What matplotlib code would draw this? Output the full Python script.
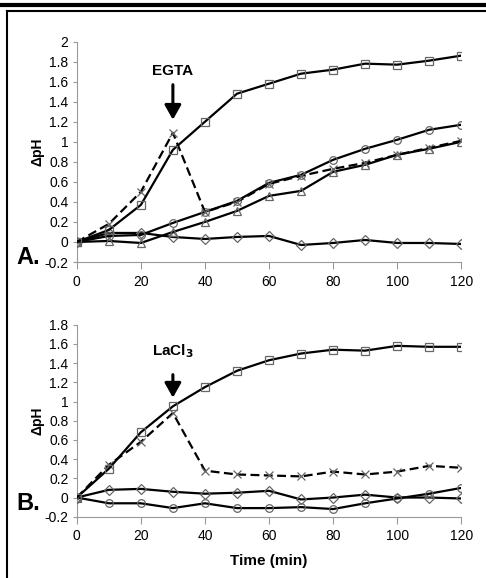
import matplotlib
matplotlib.use("Agg")
import matplotlib.pyplot as plt
from matplotlib.lines import Line2D

plt.rcParams["font.family"] = ["Liberation Sans", "DejaVu Sans"]

# Time points (min)
time = [0, 10, 20, 30, 40, 50, 60, 70, 80, 90, 100, 110, 120]

# Panel A (EGTA)
a_square = [0, 0.12, 0.37, 0.92, 1.20, 1.48, 1.58, 1.68, 1.72, 1.78, 1.77, 1.81, 1.86]
a_cross = [0, 0.18, 0.50, 1.09, 0.30, 0.40, 0.58, 0.66, 0.73, 0.79, 0.87, 0.94, 1.01]
a_circle = [0, 0.06, 0.07, 0.19, 0.30, 0.41, 0.59, 0.67, 0.82, 0.93, 1.02, 1.12, 1.17]
a_triangle = [0, 0.01, -0.01, 0.10, 0.20, 0.31, 0.46, 0.51, 0.70, 0.77, 0.87, 0.93, 1.00]
a_diamond = [0, 0.09, 0.09, 0.05, 0.03, 0.05, 0.06, -0.03, -0.01, 0.02, -0.01, -0.01, -0.02]

# Panel B (LaCl3)
b_square = [0, 0.30, 0.68, 0.95, 1.15, 1.32, 1.43, 1.50, 1.54, 1.53, 1.58, 1.57, 1.57]
b_cross = [0, 0.34, 0.58, 0.88, 0.28, 0.24, 0.23, 0.22, 0.27, 0.24, 0.27, 0.33, 0.31]
b_diamond = [0, 0.08, 0.09, 0.06, 0.04, 0.05, 0.07, -0.02, 0.0, 0.03, 0.0, 0.0, -0.01]
b_circle = [0, -0.06, -0.06, -0.11, -0.06, -0.11, -0.11, -0.10, -0.12, -0.06, -0.01, 0.04, 0.10]

xticks = [0, 20, 40, 60, 80, 100, 120]
a_yticks = [-0.2, 0, 0.2, 0.4, 0.6, 0.8, 1, 1.2, 1.4, 1.6, 1.8, 2]
b_yticks = [-0.2, 0, 0.2, 0.4, 0.6, 0.8, 1, 1.2, 1.4, 1.6, 1.8]

fig = plt.figure(figsize=(4.86, 5.78), dpi=100)

# frame lines around the figure
fig.add_artist(Line2D([0, 1], [1 - 5 / 578, 1 - 5 / 578], color="black", lw=3))
fig.add_artist(Line2D([7 / 486, 1], [1 - 10.5 / 578, 1 - 10.5 / 578], color="black", lw=1.5))
fig.add_artist(Line2D([7 / 486, 7 / 486], [0, 1 - 10.5 / 578], color="black", lw=1.5))

msize = {"s": 5.5, "D": 5.5, "o": 5.5, "^": 6, "x": 5.5}


def series(ax, y, marker, dashed=False):
    ax.plot(time, y, color="black", lw=1.6, ls=(0, (4, 2)) if dashed else "-",
            marker=marker, ms=msize[marker], mfc="none", mec="#666666", mew=0.9,
            zorder=3)


def style(ax, yticks, ylim):
    ax.set_xlim(0, 120)
    ax.set_ylim(*ylim)
    ax.set_xticks(xticks)
    ax.set_yticks(yticks)
    ax.set_yticklabels([("%g" % v) for v in yticks])
    for s in ["top", "right"]:
        ax.spines[s].set_visible(False)
    for s in ["left", "bottom"]:
        ax.spines[s].set_color("#999999")
    ax.tick_params(axis="x", length=5, color="#999999", labelsize=10, pad=4)
    ax.tick_params(axis="y", length=3, color="#999999", labelsize=10, pad=3)
    ax.set_ylabel("ΔpH", fontsize=10, fontweight="bold", labelpad=0)


def arrow(ax, x, y0, y1):
    ax.annotate("", xy=(x, y1), xytext=(x, y0),
                arrowprops=dict(arrowstyle="-|>,head_length=0.8,head_width=0.45",
                                color="black", lw=2.2, mutation_scale=11,
                                shrinkA=0, shrinkB=0))


axA = fig.add_axes([0.158, 0.5467, 0.791, 0.3813])
series(axA, a_diamond, "D")
series(axA, a_triangle, "^")
series(axA, a_circle, "o")
series(axA, a_cross, "x", dashed=True)
series(axA, a_square, "s")
style(axA, a_yticks, (-0.2, 2))
arrow(axA, 30, 1.57, 1.22)
axA.text(30, 1.71, "EGTA", ha="center", va="center", fontsize=11, fontweight="bold")
fig.text(16 / 486, 1 - 258 / 578, "A.", fontsize=17, fontweight="bold", va="center")

axB = fig.add_axes([0.158, 0.106, 0.791, 0.3322])
series(axB, b_diamond, "D")
series(axB, b_circle, "o")
series(axB, b_cross, "x", dashed=True)
series(axB, b_square, "s")
style(axB, b_yticks, (-0.2, 1.8))
arrow(axB, 30, 1.28, 1.04)
axB.text(30, 1.52, "LaCl$_\\mathbf{3}$", ha="center", va="center", fontsize=11, fontweight="bold")
axB.set_xlabel("Time (min)", fontsize=11, fontweight="bold", labelpad=8)
fig.text(16 / 486, 1 - 503 / 578, "B.", fontsize=17, fontweight="bold", va="center")

fig.savefig("out.png", dpi=100)
